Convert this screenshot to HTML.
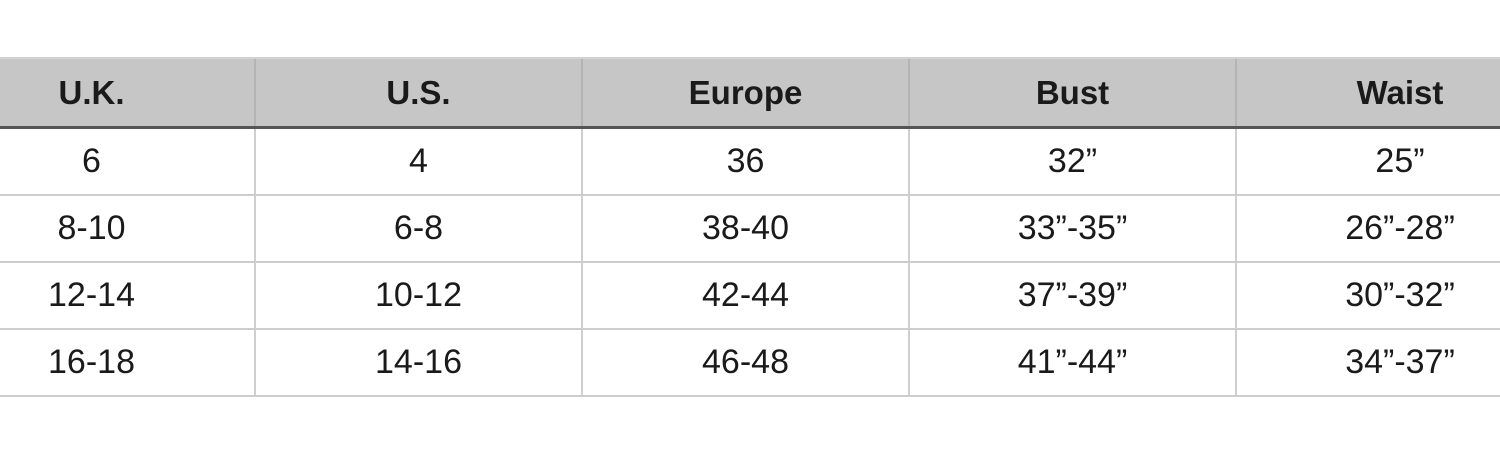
<!DOCTYPE html>
<html><head><meta charset="utf-8"><style>
body{margin:0;width:1500px;height:456px;background:#fff;overflow:hidden;position:relative;font-family:"Liberation Sans",Arial,sans-serif;color:#1a1a1a}
table{position:absolute;left:-73px;top:57px;border-collapse:collapse;table-layout:fixed;width:1635px}
td,th{width:325px;text-align:center;font-size:34px;border-left:2px solid #cfcfcf;padding:0}
th{background:#c6c6c6;height:67px;font-size:33px;font-weight:bold;border-left:2px solid #b4b4b4;border-top:2px solid #d2d2d2;border-bottom:3px solid #555}
td{height:65px;border-bottom:2px solid #cdcdcd}
</style></head><body>
<table>
<colgroup><col style="width:327px"><col style="width:327px"><col style="width:327px"><col style="width:327px"><col style="width:327px"></colgroup>
<tr><th>U.K.</th><th>U.S.</th><th>Europe</th><th>Bust</th><th>Waist</th></tr>
<tr><td>6</td><td>4</td><td>36</td><td>32”</td><td>25”</td></tr>
<tr><td>8-10</td><td>6-8</td><td>38-40</td><td>33”-35”</td><td>26”-28”</td></tr>
<tr><td>12-14</td><td>10-12</td><td>42-44</td><td>37”-39”</td><td>30”-32”</td></tr>
<tr><td>16-18</td><td>14-16</td><td>46-48</td><td>41”-44”</td><td>34”-37”</td></tr>
</table>
</body></html>
